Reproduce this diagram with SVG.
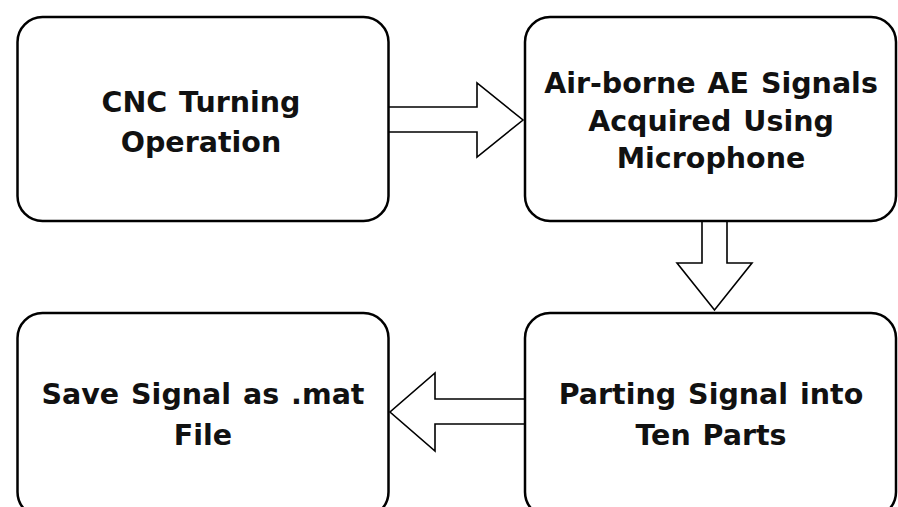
<svg xmlns="http://www.w3.org/2000/svg" width="898" height="507" viewBox="0 0 898 507">
  <style>
    .box { fill: #ffffff; stroke: #000000; stroke-width: 2.5; }
    .arrow { fill: #ffffff; stroke: #000000; stroke-width: 1.6; stroke-linejoin: miter; }
    .label { font-family: "DejaVu Sans", Verdana, sans-serif; font-weight: bold; font-size: 28.5px; word-spacing: 2px; fill: #111111; text-anchor: middle; }
  </style>
  <rect width="898" height="507" fill="#ffffff"/>

  <!-- block arrows between steps -->
  <g id="connectors">
    <polygon class="arrow" points="388,107 477,107 477,83 523,120 477,157 477,132 388,132"/>
    <polygon class="arrow" points="702,221 702,263 677,263 714.5,310 752,263 727,263 727,221"/>
    <polygon class="arrow" points="525,399 435,399 435,373 390,412 435,451 435,424 525,424"/>
  </g>

  <g id="cnc-turning">
    <rect class="box" x="17.5" y="17" width="371" height="204" rx="25" ry="25"/>
    <text class="label" x="201" y="112">CNC Turning</text>
    <text class="label" x="201" y="152">Operation</text>
  </g>

  <g id="acquire-signals">
    <rect class="box" x="525" y="17" width="371" height="204" rx="25" ry="25"/>
    <text class="label" x="711" y="93">Air-borne AE Signals</text>
    <text class="label" x="711" y="131">Acquired Using</text>
    <text class="label" x="711" y="168">Microphone</text>
  </g>

  <g id="save-signal">
    <rect class="box" x="17.5" y="313" width="371" height="204" rx="25" ry="25"/>
    <text class="label" x="203" y="404">Save Signal as .mat</text>
    <text class="label" x="203" y="445">File</text>
  </g>

  <g id="parting-signal">
    <rect class="box" x="525" y="313" width="371" height="204" rx="25" ry="25"/>
    <text class="label" x="711" y="404">Parting Signal into</text>
    <text class="label" x="711" y="445">Ten Parts</text>
  </g>
</svg>
